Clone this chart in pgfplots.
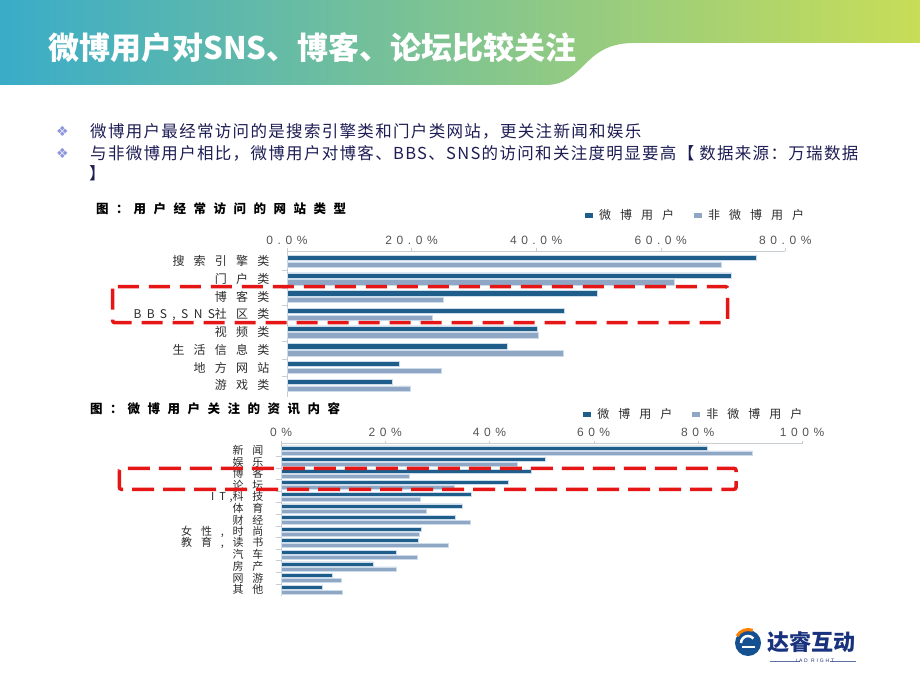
\documentclass[border=0pt]{standalone}
\usepackage{pgfplots}
\pgfplotsset{compat=1.18}
\usepackage{fontspec}
\setmainfont{Noto Sans CJK SC}
\newfontfamily\cjk{Noto Sans CJK SC}
\newfontfamily\catfont[LetterSpace=77]{Noto Sans CJK SC}
\newfontfamily\catlat[LetterSpace=45]{Noto Sans CJK SC}
\newfontfamily\catfontb[LetterSpace=80]{Noto Sans CJK SC}
\newfontfamily\lgfont[LetterSpace=75]{Noto Sans CJK SC}
\newfontfamily\ttlfont[LetterSpace=60]{Noto Sans CJK SC}
\newfontfamily\tickfont[LetterSpace=38]{Liberation Sans}
\newfontfamily\bodyfont[LetterSpace=8]{Noto Sans CJK SC}
\newfontfamily\dejavu{DejaVu Sans}

\definecolor{hdA}{RGB}{58,172,200}
\definecolor{hdB}{RGB}{92,190,128}
\definecolor{hdC}{RGB}{200,221,88}
\definecolor{dk}{RGB}{31,94,138}
\definecolor{lt}{RGB}{143,166,196}
\definecolor{edge}{RGB}{205,220,235}
\definecolor{axc}{RGB}{200,205,210}
\definecolor{tickc}{RGB}{85,85,85}
\definecolor{catc}{RGB}{45,45,45}
\definecolor{navy}{RGB}{30,30,85}
\definecolor{bulc}{RGB}{140,150,220}
\definecolor{redbox}{RGB}{230,22,22}
\definecolor{logoblue}{RGB}{25,50,125}

\pgfplotsset{
  slidebar/.style={
    scale only axis, anchor=north west,
    xbar,
    axis x line*=top, axis y line*=left,
    axis line style={draw=axc,-},
    tick align=outside,
    major tick length=3pt, minor tick length=5pt,
    every major y tick/.append style={draw=none},
    every minor y tick/.append style={draw=axc},
    every major x tick/.append style={draw=axc},
    xticklabel style={font=\tickfont\fontsize{12}{12}\selectfont, text=tickc},
    legend columns=2,
    legend image code/.code={\fill[##1,draw=none] (0pt,-2.5pt) rectangle (8pt,2.5pt);},
    legend style={draw=none, fill=none, inner sep=0pt, anchor=west,
      font=\lgfont\fontsize{12}{12}\selectfont, text=catc,
      /tikz/every odd column/.append style={column sep=4pt},
      /tikz/every even column/.append style={column sep=18pt}},
  }
}

\begin{document}
\begin{tikzpicture}[x=1pt,y=1pt]
\fill[white] (0,0) rectangle (920,-690);
% header band
\shade[left color=hdA, middle color=hdB, right color=hdC]
  (0,0) -- (920,0) -- (920,-43) -- (632,-43)
  .. controls (582,-44) and (585,-85) .. (545,-85) -- (0,-85) -- cycle;
\node[anchor=west, text=white, font=\cjk\bfseries\fontsize{31}{34}\selectfont, inner sep=0] at (48,-48) {微博用户对SNS、博客、论坛比较关注};

% bullets
\node[anchor=center, inner sep=0, text=bulc, font=\dejavu\fontsize{14}{14}\selectfont] at (62.5,-131) {❖};
\node[anchor=center, inner sep=0, text=bulc, font=\dejavu\fontsize{14}{14}\selectfont] at (62.5,-153) {❖};
\node[anchor=west, inner sep=0, text=navy, font=\bodyfont\fontsize{16.5}{20}\selectfont] at (90,-131) {微博用户最经常访问的是搜索引擎类和门户类网站，更关注新闻和娱乐};
\node[anchor=west, inner sep=0, text=navy, font=\bodyfont\fontsize{16.5}{20}\selectfont] at (90,-153) {与非微博用户相比，微博用户对博客、BBS、SNS的访问和关注度明显要高【 数据来源：万瑞数据};
\node[anchor=west, inner sep=0, text=navy, font=\bodyfont\fontsize{16.5}{20}\selectfont] at (89,-173) {】};

% chart titles
\node[anchor=west, inner sep=0, font=\ttlfont\bfseries\fontsize{12.5}{14}\selectfont] at (96,-208.5) {图：\hspace{5pt}用户经常访问的网站类型};
\node[anchor=west, inner sep=0, font=\ttlfont\bfseries\fontsize{12.5}{14}\selectfont] at (90,-408.5) {图：\hspace{5pt}微博用户关注的资讯内容};

% chart 1
\begin{axis}[slidebar,
  at={(287pt,-251pt)},
  width=498.3pt, height=146pt,
  xmin=0, xmax=80, ymin=-0.67, ymax=7.58,
  bar width=5.4pt,
  xtick={0,20,40,60,80},
  xticklabels={0.0\%,20.0\%,40.0\%,60.0\%,80.0\%},
  ytick={0,...,7},
  yticklabels={游戏类,地方网站,生活信息类,视频类,{{\catlat BBS,SNS}社区类},博客类,门户类,搜索引擎类},
  minor ytick={0.5,1.5,2.5,3.5,4.5,5.5,6.5},
  yticklabel style={font=\catfont\fontsize{12}{12}\selectfont, text=catc, xshift=-11pt},
  legend style={at={(0.598,1.242)}},
]
\addplot[fill=dk, draw=edge, line width=0.6pt, bar shift=3.4pt]
  coordinates {(75.4,7) (71.4,6) (49.8,5) (44.5,4) (40.2,3) (35.3,2) (18.1,1) (16.9,0)};
\addplot[fill=lt, draw=edge, line width=0.6pt, bar shift=-3.4pt]
  coordinates {(69.7,7) (62.2,6) (25.1,5) (23.4,4) (40.4,3) (44.4,2) (24.8,1) (19.8,0)};
\legend{微博用户,非微博用户}
\end{axis}

% chart 2
\begin{axis}[slidebar,
  at={(281pt,-443.5pt)},
  width=521pt, height=152.5pt,
  xmin=0, xmax=100, ymin=-0.56, ymax=12.59,
  bar width=3.9pt,
  xtick={0,20,40,60,80,100},
  xticklabels={0\%,20\%,40\%,60\%,80\%,100\%},
  ytick={0,...,12},
  yticklabels={其他,网游,房产,汽车,{教育,读书},{女性,时尚},财经,体育,{{\catlat IT,}科技},论坛,博客,娱乐,新闻},
  minor ytick={0.5,1.5,2.5,3.5,4.5,5.5,6.5,7.5,8.5,9.5,10.5,11.5},
  yticklabel style={font=\catfontb\fontsize{11}{11}\selectfont, text=catc, xshift=-11pt},
  legend style={at={(0.58,1.193)}},
]
\addplot[fill=dk, draw=edge, line width=0.5pt, bar shift=2.5pt]
  coordinates {(81.8,12) (50.7,11) (48.1,10) (43.6,9) (36.6,8) (34.8,7) (33.4,6) (27.0,5) (26.4,4) (22.1,3) (17.7,2) (9.8,1) (8.0,0)};
\addplot[fill=lt, draw=edge, line width=0.5pt, bar shift=-2.5pt]
  coordinates {(90.5,12) (45.4,11) (24.6,10) (33.2,9) (26.7,8) (27.8,7) (36.3,6) (26.5,5) (32.1,4) (26.2,3) (22.2,2) (11.5,1) (11.8,0)};
\legend{微博用户,非微博用户}
\end{axis}

% red dashed highlight boxes
\draw[redbox, line width=3.5pt, dash pattern=on 21pt off 10pt, rounded corners=2pt] (112.7,-286.7) rectangle (727.7,-322.7);
\draw[redbox, line width=3.5pt, dash pattern=on 22pt off 9pt, rounded corners=2pt] (119.3,-468.3) rectangle (736,-489.3);

% logo
\fill[logoblue!85!cyan] (748,-643) circle (13);
\draw[white, line width=2.5pt] (741,-643) arc (180:40:7);
\draw[orange, line width=3pt] (737,-636) arc (150:70:13);
\draw[white, line width=2pt] (742,-647) -- (755,-647);
\node[anchor=west, inner sep=0, text=logoblue, font=\cjk\bfseries\fontsize{22}{23}\selectfont] at (767,-642) {达睿互动};
\draw[logoblue!70, line width=0.6pt] (770,-661) -- (800,-661);
\draw[logoblue!70, line width=0.6pt] (830,-661) -- (856,-661);
\node[inner sep=0, text=logoblue, font=\tickfont\fontsize{5}{5}\selectfont] at (815,-661) {IAD RIGHT};
\pgfresetboundingbox
\path[use as bounding box] (0,0) rectangle (920,-690);
\end{tikzpicture}
\end{document}
